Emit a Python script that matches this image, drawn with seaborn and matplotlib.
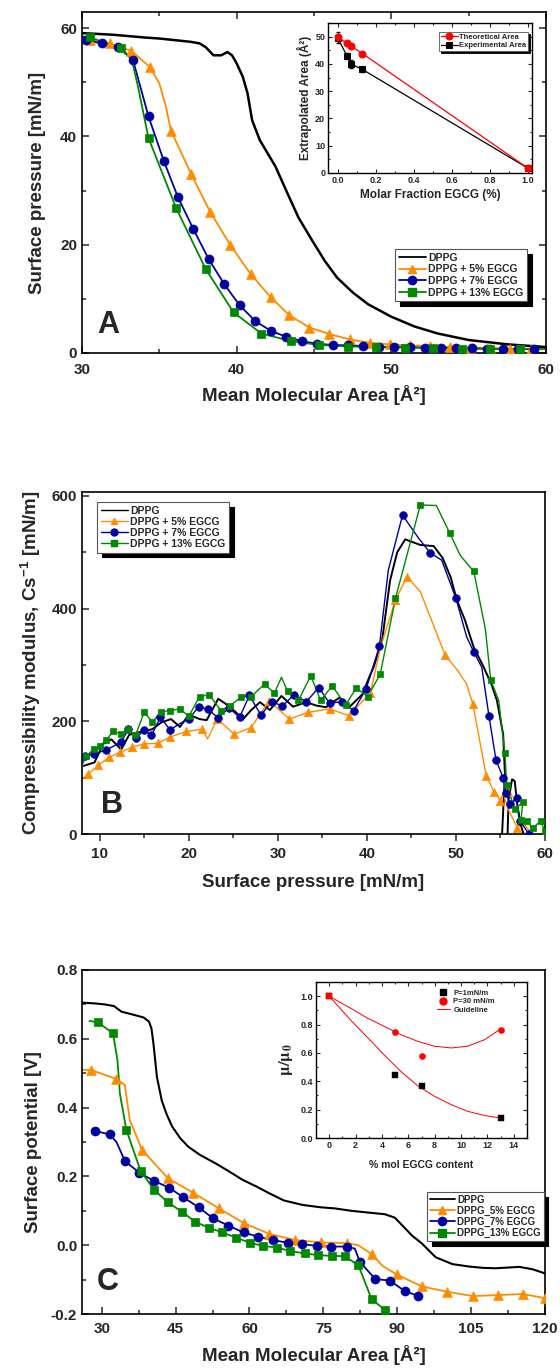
import matplotlib
matplotlib.use("Agg")
import matplotlib.pyplot as plt
from matplotlib.lines import Line2D
from matplotlib.ticker import MultipleLocator, FormatStrFormatter
import seaborn as sns

# ---------------- Panel A : isotherms ----------------
a_dppg_x = [30, 32, 34, 35, 36, 37, 37.6, 38.0, 38.5, 39.0, 39.4, 39.7, 40.0, 40.4, 40.7, 41.0,
            41.5, 42.5, 43.3, 44.0, 44.9, 45.7, 46.5, 47.5, 48.5, 50, 51.5, 53, 55, 57.5, 60]
a_dppg_y = [59.1, 58.8, 58.3, 58.1, 57.8, 57.5, 57.2, 56.5, 55.0, 55.0, 55.6, 55.0, 53.5, 51.0, 48.0, 43.0,
            39.3, 34.5, 29.4, 25.0, 20.7, 17.0, 13.9, 11.2, 9.0, 6.7, 4.9, 3.6, 2.4, 1.6, 1.1]

a_5_x = [30.5, 31.8, 33.2, 34.4, 35.75, 37.05, 38.3, 39.6, 40.9, 42.2, 43.4, 44.7, 46.0, 47.3, 48.6,
         49.9, 51.2, 52.5, 53.8, 55.1, 56.4, 57.7, 59.0]
a_5_y = [57.8, 57.2, 55.8, 52.8, 41.1, 33.1, 26.0, 19.9, 14.6, 10.3, 7.0, 4.7, 3.5, 2.5, 1.9,
         1.6, 1.4, 1.3, 1.15, 1.0, 0.9, 0.8, 0.7]
a_5_lx = [30.0, 30.5, 31.8, 33.2, 34.4, 35.0, 35.4, 35.75, 37.05, 38.3, 39.6, 40.9, 42.2, 43.4, 44.7,
          46.0, 47.3, 48.6, 49.9, 51.2, 52.5, 53.8, 55.1, 56.4, 57.7, 59.0, 60.0]
a_5_ly = [57.9, 57.8, 57.2, 55.8, 52.8, 49.8, 45.8, 41.1, 33.1, 26.0, 19.9, 14.6, 10.3, 7.0, 4.7,
          3.5, 2.5, 1.9, 1.6, 1.4, 1.3, 1.15, 1.0, 0.9, 0.8, 0.7, 0.7]

a_7_x = [30.26, 31.3, 32.3, 33.3, 34.3, 35.3, 36.2, 37.2, 38.2, 39.2, 40.2, 41.2, 42.2, 43.2, 44.2,
         45.2, 46.2, 47.2, 48.2, 49.2, 50.2, 51.2, 52.2, 53.2, 54.2, 55.2, 56.2, 57.2, 58.2, 59.2]
a_7_y = [57.8, 57.2, 56.6, 54.1, 43.7, 35.4, 28.8, 22.9, 17.3, 12.7, 8.8, 5.9, 4.1, 3.0, 2.2,
         1.7, 1.5, 1.4, 1.3, 1.2, 1.1, 1.05, 1.0, 0.95, 0.9, 0.85, 0.8, 0.75, 0.7, 0.7]

a_13_x = [30.5, 32.5, 34.3, 36.1, 38.0, 39.8, 41.6, 43.5, 45.3, 47.2, 49.0, 50.9, 52.7, 54.6, 56.4, 58.3]
a_13_y = [58.3, 56.4, 39.7, 26.7, 15.5, 7.5, 3.6, 2.2, 1.5, 1.2, 1.1, 1.0, 0.9, 0.8, 0.75, 0.75]
a_13_lx = [30.0, 30.5, 32.5, 33.2, 33.6, 34.3, 36.1, 38.0, 39.8, 41.6, 43.5, 45.3, 47.2, 49.0, 50.9,
           52.7, 54.6, 56.4, 58.3, 60.0]
a_13_ly = [58.5, 58.3, 56.4, 54.4, 49.5, 39.7, 26.7, 15.5, 7.5, 3.6, 2.2, 1.5, 1.2, 1.1, 1.0,
           0.9, 0.8, 0.75, 0.75, 0.75]

# Inset A
ins_a_x = [0.0, 0.05, 0.07, 0.13, 1.0]
ins_a_theo = [50.0, 47.5, 46.6, 43.8, 1.7]
ins_a_exp = [49.6, 42.9, 40.0, 38.0, 1.7]
ins_a_err = [2.0, 1.2, 1.5, 0.8, 0.5]

# ---------------- Panel B : compressibility ----------------
b_dppg_x = [8.2, 9.4, 10.4, 11.3, 12.4, 13.3, 14.7, 15.9, 16.9, 18.0, 19.0, 20.0, 21.2, 22.0, 23.3, 24.6,
            26.1, 27.0, 28.0, 29.1, 30.4, 31.7, 33.2, 34.3, 35.4, 36.9, 38.0, 39.5, 40.3, 40.75, 41.7,
            42.6, 43.4, 44.3, 46.0, 47.5, 48.5, 49.4, 50.1, 51.0, 52.0, 53.0, 54.0, 54.6, 55.3, 55.5,
            55.3, 55.0, 55.7, 55.9, 56.3, 56.6, 56.9, 57.2, 57.6]
b_dppg_y = [121, 127, 160, 168, 150, 176, 182, 186, 198, 204, 190, 212, 204, 202, 240, 226,
            204, 220, 234, 220, 245, 226, 234, 228, 225, 242, 225, 248, 280, 296, 343,
            450, 500, 523, 513, 511, 490, 456, 415, 380, 331, 300, 265, 237, 177, 107,
            40, -60, -60, 60, 97, 94, 50, 20, 0]

b_5_x = [8.73, 9.85, 11.0, 12.3, 13.6, 14.98, 16.5, 17.9, 19.7, 21.5, 23.2, 25.1, 27.0, 29.0, 31.3,
         33.4, 35.8, 38.0, 40.4, 43.2, 44.5, 48.8, 51.9, 53.4, 54.3, 55.0, 55.8, 56.9]
b_5_y = [107, 122, 136, 145, 154, 160, 161, 172, 182, 186, 204, 177, 189, 236, 204,
         216, 222, 210, 251, 415, 457, 317, 231, 103, 74, 59, 74, 11]
b_5_lx = [8.2, 8.73, 9.85, 11.0, 12.3, 13.6, 14.98, 16.5, 17.9, 19.7, 21.5, 22.1, 23.2, 25.1, 27.0,
          29.0, 31.3, 33.4, 35.8, 38.0, 40.4, 41.5, 43.2, 44.5, 46.0, 48.8, 50.2, 51.2, 51.9, 53.4,
          54.3, 55.0, 55.3, 55.8, 56.3, 56.9, 57.5, 58.3]
b_5_ly = [100, 107, 122, 136, 145, 154, 160, 161, 172, 182, 186, 169, 204, 177, 189,
          236, 204, 216, 222, 210, 251, 330, 415, 457, 430, 317, 290, 266, 231, 103,
          74, 59, 74, 45, 30, 11, 20, 5]

b_7_x = [8.35, 9.36, 10.7, 12.4, 13.2, 14.1, 14.98, 15.8, 16.8, 17.9, 20.0, 21.1, 22.2, 23.3, 24.5,
         25.7, 26.8, 28.1, 29.3, 30.5, 31.8, 33.2, 34.6, 35.8, 37.2, 38.5, 39.9, 41.4, 44.0, 47.1,
         50.0, 52.0, 53.7, 54.5, 55.3, 55.6, 56.1, 56.8, 57.2, 58.2]
b_7_y = [139, 142, 149, 163, 186, 171, 185, 175, 207, 185, 204, 226, 221, 206, 224,
         207, 246, 211, 235, 227, 247, 235, 260, 232, 235, 219, 257, 333, 566, 499,
         418, 323, 210, 131, 100, 73, 53, 64, 23, 0]
b_7_lx = [8.1, 8.35, 9.36, 10.7, 12.4, 13.2, 14.1, 14.98, 15.8, 16.8, 17.9, 19.0, 20.0, 21.1, 22.2,
          23.3, 24.5, 25.7, 26.8, 28.1, 29.3, 30.5, 31.8, 33.2, 34.6, 35.8, 37.2, 38.5, 39.9, 41.4,
          42.4, 44.0, 45.8, 47.1, 48.4, 50.0, 51.2, 52.0, 52.9, 53.7, 54.5, 55.3, 55.6, 56.1, 56.8,
          57.2, 58.2]
b_7_ly = [130, 139, 142, 149, 163, 186, 171, 185, 175, 207, 185, 196, 204, 226, 221,
          206, 224, 207, 246, 211, 235, 227, 247, 235, 260, 232, 235, 219, 257, 333,
          468, 566, 525, 499, 486, 418, 350, 323, 296, 210, 131, 100, 73, 53, 64,
          23, 0]

b_13_x = [8.43, 9.36, 10.0, 10.67, 11.5, 12.4, 13.2, 14.0, 14.98, 15.9, 16.9, 17.9, 19.0, 20.0, 21.2,
          22.3, 23.6, 24.6, 25.9, 27.0, 28.5, 29.6, 31.1, 32.3, 33.7, 34.8, 36.1, 37.6, 38.8, 40.1,
          41.5, 43.2, 46.0, 49.3, 52.0, 53.9, 55.5, 55.7, 56.6, 57.3, 57.5, 58.0, 58.6, 59.5, 60.0]
b_13_y = [138, 151, 156, 166, 182, 178, 186, 175, 216, 199, 217, 219, 222, 209, 244,
          247, 219, 227, 244, 244, 266, 250, 253, 237, 281, 237, 263, 229, 259, 244,
          284, 418, 584, 534, 466, 274, 143, 87, 44, 25, 56, 23, 10, 23, 5]
b_13_lx = [8.1, 8.43, 9.36, 10.0, 10.67, 11.5, 12.4, 13.2, 14.0, 14.98, 15.9, 16.9, 17.9, 19.0, 20.0,
           21.2, 22.3, 23.6, 24.6, 25.9, 27.0, 28.5, 29.6, 30.4, 31.1, 32.3, 33.7, 34.8, 36.1, 37.6,
           38.8, 40.1, 41.5, 43.2, 46.0, 47.8, 49.3, 50.5, 52.0, 53.3, 53.9, 54.8, 55.5, 55.7, 56.6,
           57.5, 57.3, 58.0, 58.6, 59.5, 60.0]
b_13_ly = [125, 138, 151, 156, 166, 182, 178, 186, 175, 216, 199, 217, 219, 222, 209,
           244, 247, 219, 227, 244, 244, 266, 250, 278, 253, 237, 281, 237, 263, 229,
           259, 244, 284, 418, 584, 583, 534, 494, 466, 364, 274, 237, 143, 87, 44,
           56, 25, 23, 10, 23, 5]

# ---------------- Panel C : surface potential ----------------
c_dppg_x = [26.2, 28.5, 30.6, 32.5, 34.0, 36.7, 38.5, 39.6, 40.1, 40.5, 41.2, 42.2, 43.2, 44.3, 46.0,
            47.6, 50.0, 53.1, 55.8, 58.6, 61.5, 64.0, 67.0, 70.8, 74.6, 77.3, 80.7, 84.0, 87.5, 89.5,
            91.0, 93.0, 95.0, 97.8, 101.2, 104.6, 107.5, 110.0, 112.5, 114.8, 117.5, 120.0]
c_dppg_y = [0.705, 0.703, 0.700, 0.695, 0.679, 0.669, 0.662, 0.650, 0.630, 0.587, 0.490, 0.420, 0.380,
            0.345, 0.310, 0.286, 0.262, 0.238, 0.215, 0.190, 0.170, 0.151, 0.130, 0.117, 0.110, 0.107,
            0.100, 0.095, 0.090, 0.080, 0.058, 0.028, 0.005, -0.035, -0.055, -0.062, -0.066, -0.067,
            -0.065, -0.063, -0.070, -0.082]

c_5_x = [27.9, 33.0, 38.2, 43.4, 48.5, 53.8, 58.9, 64.0, 69.3, 74.6, 79.7, 84.8, 89.9, 95.0, 100.1,
         105.3, 110.4, 115.5, 120.0]
c_5_y = [0.509, 0.483, 0.277, 0.195, 0.153, 0.107, 0.064, 0.033, 0.015, 0.008, 0.006, -0.026, -0.085,
         -0.120, -0.135, -0.148, -0.145, -0.142, -0.154]
c_5_lx = [26.0, 27.9, 33.0, 34.7, 35.7, 38.2, 43.4, 48.5, 53.8, 58.9, 64.0, 69.3, 74.6, 79.7, 82.1,
          84.8, 87.0, 89.9, 95.0, 100.1, 105.3, 110.4, 115.5, 120.0]
c_5_ly = [0.510, 0.509, 0.483, 0.466, 0.364, 0.277, 0.195, 0.153, 0.107, 0.064, 0.033, 0.015, 0.008,
          0.006, 0.000, -0.026, -0.060, -0.085, -0.120, -0.135, -0.148, -0.145, -0.142, -0.154]

c_7_x = [28.7, 31.6, 34.7, 37.6, 40.6, 43.7, 46.6, 49.7, 52.6, 55.7, 58.8, 61.7, 64.7, 67.8, 70.7,
         73.7, 76.6, 79.7, 82.4, 85.5, 88.5, 91.5, 94.3]
c_7_y = [0.332, 0.322, 0.245, 0.211, 0.187, 0.167, 0.139, 0.110, 0.078, 0.057, 0.037, 0.025, 0.015,
         0.007, 0.003, -0.002, -0.004, -0.004, -0.048, -0.098, -0.103, -0.133, -0.148]
c_7_lx = [28.7, 31.6, 33.0, 34.7, 37.6, 40.6, 43.7, 46.6, 49.7, 52.6, 55.7, 58.8, 61.7, 64.7, 67.8,
          70.7, 73.7, 76.6, 79.7, 81.4, 82.4, 85.5, 88.5, 91.5, 94.3]
c_7_ly = [0.332, 0.322, 0.300, 0.245, 0.211, 0.187, 0.167, 0.139, 0.110, 0.078, 0.057, 0.037, 0.025,
          0.015, 0.007, 0.003, -0.002, -0.004, -0.004, -0.010, -0.048, -0.098, -0.103, -0.133, -0.148]

c_13_x = [29.2, 32.3, 35.0, 37.9, 40.7, 43.4, 46.3, 49.0, 51.7, 54.5, 57.3, 60.1, 62.8, 65.6, 68.3,
          71.2, 74.0, 76.8, 79.3, 82.1, 84.8, 87.5]
c_13_y = [0.648, 0.616, 0.335, 0.216, 0.160, 0.125, 0.097, 0.068, 0.051, 0.037, 0.022, 0.007, -0.002,
          -0.007, -0.017, -0.024, -0.029, -0.031, -0.032, -0.058, -0.157, -0.188]
c_13_lx = [27.5, 29.2, 32.3, 33.2, 33.7, 35.0, 37.9, 40.7, 43.4, 46.3, 49.0, 51.7, 54.5, 57.3, 60.1,
           62.8, 65.6, 68.3, 71.2, 74.0, 76.8, 79.3, 82.1, 84.8, 87.5]
c_13_ly = [0.652, 0.648, 0.616, 0.538, 0.440, 0.335, 0.216, 0.160, 0.125, 0.097, 0.068, 0.051, 0.037,
           0.022, 0.007, -0.002, -0.007, -0.017, -0.024, -0.029, -0.031, -0.032, -0.058, -0.157, -0.188]

# Inset C
ins_c_x = [0, 5, 7, 13]
ins_c_p1 = [1.0, 0.445, 0.365, 0.140]
ins_c_p30 = [1.0, 0.750, 0.578, 0.765]
guide_x = [0, 1.59, 2.87, 4.15, 5.43, 6.7, 7.98, 9.26, 10.5, 11.8, 13.0]
guide_p30 = [1.0, 0.917, 0.847, 0.788, 0.729, 0.682, 0.647, 0.635, 0.647, 0.694, 0.769]
guide_p1 = [1.0, 0.835, 0.712, 0.588, 0.470, 0.369, 0.294, 0.235, 0.188, 0.158, 0.141]

labels_A = ["DPPG", "DPPG + 5% EGCG", "DPPG + 7% EGCG", "DPPG + 13% EGCG"]
labels_C = ["DPPG", "DPPG_5% EGCG", "DPPG_7% EGCG", "DPPG_13% EGCG"]

# ---------------- style ----------------
sns.set_theme(style="ticks")
plt.rcParams["font.family"] = ["Liberation Sans", "DejaVu Sans"]
plt.rcParams["font.weight"] = "bold"
plt.rcParams["axes.labelweight"] = "bold"
plt.rcParams["mathtext.fontset"] = "custom"
plt.rcParams["mathtext.rm"] = "Liberation Sans:bold"
plt.rcParams["mathtext.bf"] = "Liberation Sans:bold"
plt.rcParams["mathtext.it"] = "Liberation Sans:bold"
plt.rcParams["axes.edgecolor"] = "black"
plt.rcParams["axes.linewidth"] = 1.2

BLACK = "#000000"
ORANGE = "#FF8C00"
BLUE = "#00009C"
GREEN = "#008800"

fig = plt.figure(figsize=(5.6, 13.71), dpi=100)
W, H = 560.0, 1371.0


def box(l, t, r, b):
    return [l / W, 1 - b / H, (r - l) / W, (b - t) / H]


axA = fig.add_axes(box(82, 12, 546, 353))
axB = fig.add_axes(box(82, 492, 545, 834))
axC = fig.add_axes(box(82, 970, 545, 1314))
insA = fig.add_axes(box(328, 23, 532, 173))
insC = fig.add_axes(box(316, 982, 527, 1138))


def series(ax, lx, ly, mx, my, color, marker, ms, lw):
    sns.lineplot(x=lx, y=ly, color=color, lw=lw, sort=False, estimator=None, ax=ax, zorder=2)
    if mx is not None:
        sns.scatterplot(x=mx, y=my, color=color, marker=marker, s=ms ** 2, edgecolor=color,
                        linewidth=0.5, ax=ax, zorder=3)


def handles(color_list, markers, ms, lw, labels):
    hs = []
    for c, m, lab in zip(color_list, markers, labels):
        hs.append(Line2D([], [], color=c, marker=m, ms=ms, lw=lw, mec=c, label=lab))
    return hs


def style_main(ax, inward_bottom=True, mirror=False, xpad=4):
    ax.tick_params(axis="both", which="both", labelsize=11, width=1.1)
    ax.tick_params(axis="both", which="major", length=5)
    ax.tick_params(axis="both", which="minor", length=3)
    ax.tick_params(axis="y", which="both", direction="in", right=mirror)
    ax.tick_params(axis="x", which="both", direction="in" if inward_bottom else "out", top=mirror,
                   pad=xpad)
    for lab in ax.get_xticklabels() + ax.get_yticklabels():
        lab.set_fontweight("bold")


def shadow_legend(ax, hs, anchor, fs, **kw):
    leg = ax.legend(handles=hs, loc="upper left", bbox_to_anchor=anchor,
                    bbox_transform=fig.transFigure, fontsize=fs, frameon=True, fancybox=False,
                    framealpha=1, edgecolor="#555555",
                    shadow={"ox": 3.5, "oy": -3.5, "color": "black", "alpha": 1.0},
                    prop={"weight": "bold", "size": fs}, **kw)
    leg.get_frame().set_linewidth(0.8)
    return leg


# ---------------- Panel A ----------------
series(axA, a_dppg_x, a_dppg_y, None, None, BLACK, None, 0, 1.8)
series(axA, a_5_lx, a_5_ly, a_5_x, a_5_y, ORANGE, "^", 7, 1.3)
series(axA, a_7_x, a_7_y, a_7_x, a_7_y, BLUE, "o", 6.5, 1.3)
series(axA, a_13_lx, a_13_ly, a_13_x, a_13_y, GREEN, "s", 6, 1.3)
axA.set_xlim(30, 60)
axA.set_ylim(0, 63)
axA.xaxis.set_major_locator(MultipleLocator(10))
axA.xaxis.set_minor_locator(MultipleLocator(5))
axA.yaxis.set_major_locator(MultipleLocator(20))
axA.yaxis.set_minor_locator(MultipleLocator(10))
axA.set_xlabel("Mean Molecular Area [Å²]", fontsize=13.5, fontweight="bold", labelpad=6)
axA.set_ylabel("Surface pressure [mN/m]", fontsize=13.5, fontweight="bold", labelpad=10)
style_main(axA, inward_bottom=True, mirror=True, xpad=7)
axA.text(0.033, 0.06, "A", transform=axA.transAxes, fontsize=22, fontweight="bold",
         ha="left", va="baseline")
shadow_legend(axA, handles([BLACK, ORANGE, BLUE, GREEN], [None, "^", "o", "s"], 6, 1.3, labels_A),
              (390 / W, 1 - 244 / H), 7.5, handlelength=2.6, labelspacing=0.15, borderpad=0.35,
              handletextpad=0.2)

# Inset A
sns.lineplot(x=ins_a_x, y=ins_a_theo, color="red", lw=0.9, marker="o", ms=5, mec="red",
             sort=False, estimator=None, ax=insA, zorder=3, label="Theoretical Area")
sns.lineplot(x=ins_a_x, y=ins_a_exp, color="black", lw=0.9, marker="s", ms=4, mec="black",
             sort=False, estimator=None, ax=insA, zorder=2, label="Experimental Area")
insA.errorbar(ins_a_x, ins_a_exp, yerr=ins_a_err, fmt="none", ecolor="black", elinewidth=0.7,
              capsize=1.5, zorder=2)
insA.set_xlim(-0.05, 1.02)
insA.set_ylim(0, 55)
insA.xaxis.set_major_locator(MultipleLocator(0.2))
insA.xaxis.set_minor_locator(MultipleLocator(0.1))
insA.yaxis.set_major_locator(MultipleLocator(10))
insA.yaxis.set_minor_locator(MultipleLocator(5))
insA.xaxis.set_major_formatter(FormatStrFormatter("%.1f"))
insA.tick_params(axis="both", which="both", direction="in", top=True, right=True, labelsize=6.5,
                 width=0.8, pad=2)
insA.tick_params(which="major", length=3)
insA.tick_params(which="minor", length=1.5)
for s in insA.spines.values():
    s.set_linewidth(1.0)
for lab in insA.get_xticklabels() + insA.get_yticklabels():
    lab.set_fontweight("bold")
insA.set_xlabel("Molar Fraction EGCG (%)", fontsize=8.5, fontweight="bold", labelpad=3)
insA.set_ylabel("Extrapolated Area (Å²)", fontsize=8.5, fontweight="bold", labelpad=2)
legIA = insA.legend(loc="upper left", bbox_to_anchor=(435 / W, 1 - 28 / H), bbox_transform=fig.transFigure,
                    frameon=True, fancybox=False, framealpha=1, edgecolor="#555555",
                    shadow={"ox": 1.5, "oy": -1.5, "color": "black", "alpha": 1.0},
                    prop={"weight": "bold", "size": 5.5}, handlelength=2.2, labelspacing=0.1,
                    borderpad=0.25, handletextpad=0.2)
legIA.get_frame().set_linewidth(0.6)

# ---------------- Panel B ----------------
series(axB, b_dppg_x, b_dppg_y, None, None, BLACK, None, 0, 1.4)
series(axB, b_5_lx, b_5_ly, b_5_x, b_5_y, ORANGE, "^", 6, 1.0)
series(axB, b_7_lx, b_7_ly, b_7_x, b_7_y, BLUE, "o", 5.5, 1.0)
series(axB, b_13_lx, b_13_ly, b_13_x, b_13_y, GREEN, "s", 5, 1.0)
axB.set_xlim(8, 60)
axB.set_ylim(0, 607)
axB.xaxis.set_major_locator(MultipleLocator(10))
axB.xaxis.set_minor_locator(MultipleLocator(5))
axB.yaxis.set_major_locator(MultipleLocator(200))
axB.yaxis.set_minor_locator(MultipleLocator(100))
axB.set_xlabel("Surface pressure [mN/m]", fontsize=13.5, fontweight="bold", labelpad=10)
axB.set_ylabel(r"Compressibility modulus, Cs$^{-1}$ [mN/m]", fontsize=13.5, fontweight="bold",
               labelpad=6)
style_main(axB, inward_bottom=False, mirror=False)
axB.text(0.041, 0.061, "B", transform=axB.transAxes, fontsize=22, fontweight="bold",
         ha="left", va="baseline")
shadow_legend(axB, handles([BLACK, ORANGE, BLUE, GREEN], [None, "^", "o", "s"], 5, 1.0, labels_A),
              (92 / W, 1 - 497 / H), 7.5, handlelength=2.6, labelspacing=0.1, borderpad=0.35,
              handletextpad=0.2)

# ---------------- Panel C ----------------
series(axC, c_dppg_x, c_dppg_y, None, None, BLACK, None, 0, 1.5)
series(axC, c_5_lx, c_5_ly, c_5_x, c_5_y, ORANGE, "^", 7, 1.3)
series(axC, c_7_lx, c_7_ly, c_7_x, c_7_y, BLUE, "o", 6.5, 1.3)
series(axC, c_13_lx, c_13_ly, c_13_x, c_13_y, GREEN, "s", 5.5, 1.3)
axC.set_xlim(26, 120)
axC.set_ylim(-0.2, 0.8)
axC.set_xticks([30, 45, 60, 75, 90, 105, 120])
axC.xaxis.set_minor_locator(MultipleLocator(7.5))
axC.yaxis.set_major_locator(MultipleLocator(0.2))
axC.yaxis.set_minor_locator(MultipleLocator(0.1))
axC.yaxis.set_major_formatter(FormatStrFormatter("%.1f"))
axC.set_xlabel("Mean Molecular Area [Å²]", fontsize=13.5, fontweight="bold", labelpad=6)
axC.set_ylabel("Surface potential [V]", fontsize=13.5, fontweight="bold", labelpad=6)
style_main(axC, inward_bottom=True, mirror=False, xpad=6)
axC.text(0.032, 0.07, "C", transform=axC.transAxes, fontsize=22, fontweight="bold",
         ha="left", va="baseline")
shadow_legend(axC, handles([BLACK, ORANGE, BLUE, GREEN], [None, "^", "o", "s"], 6, 1.3, labels_C),
              (422 / W, 1 - 1187 / H), 7.0, handlelength=2.6, labelspacing=0.1, borderpad=0.3,
              handletextpad=0.2)

# Inset C
sns.lineplot(x=guide_x, y=guide_p30, color="red", lw=0.7, sort=False, estimator=None, ax=insC, zorder=1)
sns.lineplot(x=guide_x, y=guide_p1, color="red", lw=0.7, sort=False, estimator=None, ax=insC, zorder=1)
sns.scatterplot(x=ins_c_x, y=ins_c_p1, color="black", marker="s", s=16, edgecolor="black",
                linewidth=0.3, ax=insC, zorder=3)
sns.scatterplot(x=ins_c_x[1:], y=ins_c_p30[1:], color="red", marker="o", s=20, edgecolor="red",
                linewidth=0.3, ax=insC, zorder=3)
sns.scatterplot(x=ins_c_x[:1], y=ins_c_p30[:1], color="red", marker="s", s=16, edgecolor="red",
                linewidth=0.3, ax=insC, zorder=4)
insC.set_xlim(-1, 15)
insC.set_ylim(0, 1.1)
insC.xaxis.set_major_locator(MultipleLocator(2))
insC.xaxis.set_minor_locator(MultipleLocator(1))
insC.yaxis.set_major_locator(MultipleLocator(0.2))
insC.yaxis.set_minor_locator(MultipleLocator(0.1))
insC.yaxis.set_major_formatter(FormatStrFormatter("%.1f"))
insC.tick_params(axis="both", which="both", direction="in", top=True, right=True, labelsize=6.5,
                 width=0.8, pad=2)
insC.tick_params(which="major", length=3)
insC.tick_params(which="minor", length=1.5)
for s in insC.spines.values():
    s.set_linewidth(1.0)
for lab in insC.get_xticklabels() + insC.get_yticklabels():
    lab.set_fontweight("bold")
insC.set_xlabel("% mol EGCG content", fontsize=7.5, fontweight="bold", labelpad=7)
insC.set_ylabel(r"$\mathrm{\mu/\mu_0}$", fontsize=12, math_fontfamily="stix", labelpad=4)
hC = [Line2D([], [], color="black", marker="s", ms=4, lw=0, label="P=1mN/m"),
      Line2D([], [], color="red", marker="o", ms=5, lw=0, label="P=30 mN/m"),
      Line2D([], [], color="red", lw=0.7, label="Guideline")]
insC.legend(handles=hC, loc="upper left", bbox_to_anchor=(432 / W, 1 - 985 / H),
            bbox_transform=fig.transFigure, frameon=False, prop={"weight": "bold", "size": 5.5},
            handlelength=1.8, labelspacing=0.15, borderpad=0.1, handletextpad=0.4)

fig.savefig("out.png", dpi=100)
